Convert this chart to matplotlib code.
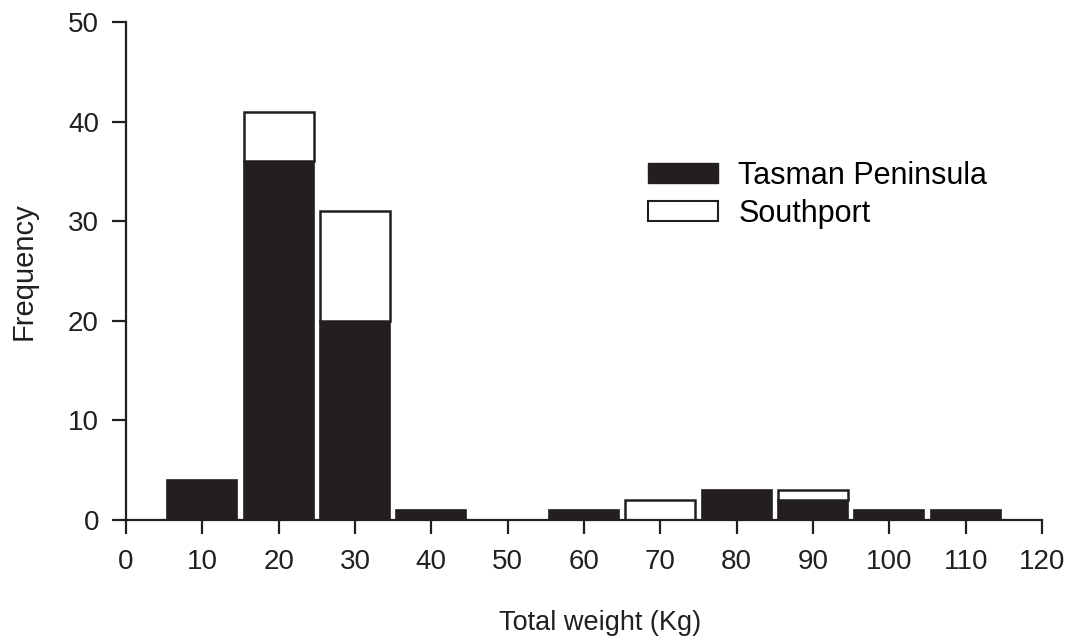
import matplotlib.pyplot as plt
from matplotlib.patches import Patch
import numpy as np

weights = [10, 20, 30, 40, 50, 60, 70, 80, 90, 100, 110]
tasman = [4, 36, 20, 1, 0, 1, 0, 3, 2, 1, 1]
southport = [0, 5, 11, 0, 0, 0, 2, 0, 1, 0, 0]

dark = '#231f20'
plt.rcParams['font.family'] = ['Liberation Sans', 'DejaVu Sans']

fig = plt.figure(figsize=(10.7, 6.36), dpi=100)
ax = fig.add_axes([0.1178, 0.1824, 0.856, 0.783])

w = 9.2
x = np.array(weights)
t = np.array(tasman)
s = np.array(southport)
mask_t = t > 0
ax.bar(x[mask_t], t[mask_t], width=w, color=dark, edgecolor=dark, linewidth=1.2, zorder=2)
mask_s = s > 0
ax.bar(x[mask_s], s[mask_s], width=w, bottom=t[mask_s], color='white',
       edgecolor=dark, linewidth=1.8, zorder=2)

ax.set_xlim(0, 120)
ax.set_ylim(0, 50)
ax.set_xticks(range(0, 121, 10))
ax.set_yticks(range(0, 51, 10))
for side in ['top', 'right']:
    ax.spines[side].set_visible(False)
for side in ['left', 'bottom']:
    ax.spines[side].set_linewidth(1.6)
    ax.spines[side].set_color(dark)
ax.tick_params(direction='out', length=10, width=1.6, color=dark,
               labelsize=20, labelcolor=dark, pad=11)
ax.tick_params(axis='y', pad=9.5)

ax.set_xlabel('Total weight (Kg)', fontsize=19.5, color=dark)
ax.xaxis.set_label_coords(0.517, -0.18)
ax.set_ylabel('Frequency', fontsize=21, color=dark, labelpad=22)

handles = [Patch(facecolor=dark, edgecolor=dark, label='Tasman Peninsula'),
           Patch(facecolor='white', edgecolor=dark, linewidth=1.5, label='Southport')]
ax.legend(handles=handles, loc='upper left', bbox_to_anchor=(0.6056, 0.7469),
          bbox_transform=fig.transFigure, borderpad=0, borderaxespad=0,
          frameon=False, fontsize=22, handlelength=2.3, handleheight=0.62,
          handletextpad=0.65, labelspacing=0.25)

fig.savefig('out.png', dpi=100)
